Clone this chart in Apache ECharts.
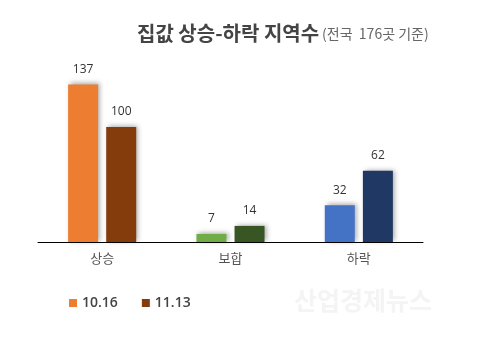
<!DOCTYPE html>
<html><head><meta charset="utf-8">
<script src="https://cdn.jsdelivr.net/npm/echarts@6/dist/echarts.min.js"></script>
<style>html,body{margin:0;padding:0;background:#fff}#c{width:480px;height:357px}</style>
</head><body><div id="c"></div>
<script>
var categories = ['상승', '보합', '하락'];
var seriesNames = ['10.16', '11.13'];
var values1016 = [137, 7, 32];
var values1113 = [100, 14, 62];
var colors1016 = ['#ED7D31', '#70AD47', '#4472C4'];
var colors1113 = ['#843C0C', '#375623', '#1F3864'];

function mk(vals, cols) {
  return vals.map(function (v, i) { return { value: v, itemStyle: { color: cols[i] } }; });
}
var shadow = { shadowColor: 'rgba(0,0,0,0.35)', shadowBlur: 5, shadowOffsetX: 2, shadowOffsetY: -1 };
var chart = echarts.init(document.getElementById('c'));
chart.setOption({
  animation: false,
  title: {
    text: '집값 상승-하락 지역수{s|(전국  176곳 기준)}',
    left: 132, top: 18,
    textStyle: { fontFamily: 'Noto Sans CJK KR', fontSize: 20, fontWeight: 'bold', color: '#444',
      rich: { s: { fontFamily: 'Noto Sans CJK KR', fontSize: 14, fontWeight: 'normal', color: '#666', padding: [2, 0, 0, 3] } } }
  },
  legend: {
    data: seriesNames, left: 64, top: 291, icon: 'rect', itemWidth: 8, itemHeight: 8, itemGap: 24,
    textStyle: { fontFamily: 'Open Sans', fontSize: 14, fontWeight: 600, color: '#444' }
  },
  grid: { left: 38, right: 57, top: 69.5, bottom: 115, containLabel: false },
  xAxis: {
    type: 'category', data: categories,
    axisLine: { lineStyle: { color: '#000', width: 1 } },
    axisTick: { show: false },
    axisLabel: { fontFamily: 'Noto Sans CJK KR', fontSize: 13, color: '#555', margin: 10 }
  },
  yAxis: { type: 'value', min: 0, max: 150, show: false, splitLine: { show: false } },
  series: [
    { name: seriesNames[0], type: 'bar', data: mk(values1016, colors1016), color: colors1016[0],
      barWidth: 30, barGap: '27%', itemStyle: shadow,
      label: { show: true, position: 'top', distance: 9, fontFamily: 'Open Sans', fontSize: 12, color: '#333' } },
    { name: seriesNames[1], type: 'bar', data: mk(values1113, colors1113), color: colors1113[0],
      barWidth: 30, itemStyle: shadow,
      label: { show: true, position: 'top', distance: 9, fontFamily: 'Open Sans', fontSize: 12, color: '#333' } }
  ],
  graphic: [{
    type: 'text', left: 294, top: 288,
    style: { text: '산업경제뉴스', font: 'bold 25px "Noto Sans CJK KR"', fill: '#f4f4f4',
      shadowColor: 'rgba(0,0,0,0.4)', shadowBlur: 2, shadowOffsetX: 1, shadowOffsetY: 1 }
  }]
});
</script></body></html>
